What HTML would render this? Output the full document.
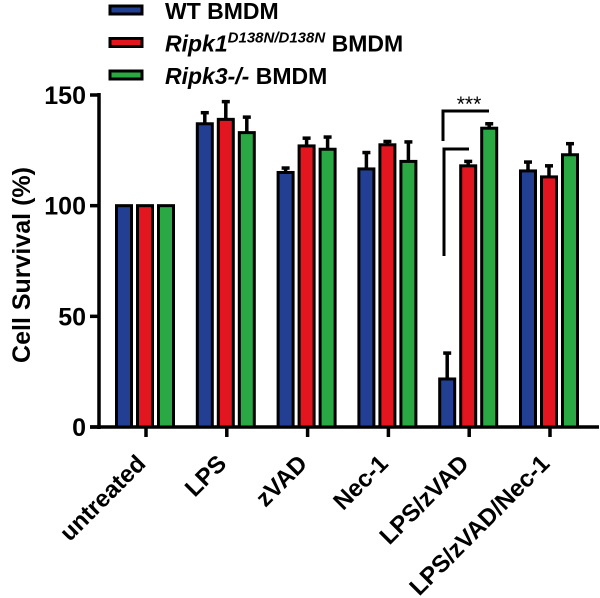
<!DOCTYPE html>
<html><head><meta charset="utf-8"><style>
body{margin:0;background:#fff}
svg{display:block;font-family:"Liberation Sans",Arial,sans-serif;font-weight:bold}
</style></head><body>
<svg id="c" width="600" height="598"></svg>
<script>
const categories=["untreated","LPS","zVAD","Nec-1","LPS/zVAD","LPS/zVAD/Nec-1"];
const wtValues=[100,137,115,116.6,21.7,115.7];
const wtErr=[0,5,2,7.4,11.7,4];
const ripk1Values=[100,139,127,127.5,118,113];
const ripk1Err=[0,8,3.5,1.5,2,5];
const ripk3Values=[100,133,125.5,120,135,123];
const ripk3Err=[0,7,5.5,8.8,2,5];
const yTicks=[0,50,100,150];
const NS="http://www.w3.org/2000/svg";
const svg=document.getElementById('c');
function el(t,a,p){const e=document.createElementNS(NS,t);for(const k in a)e.setAttribute(k,a[k]);(p||svg).appendChild(e);return e;}
const y=v=>427-v*(332/150);
const xc=i=>146+i*80.8;
const series=[{v:wtValues,e:wtErr,c:"#233f93",n:"wt"},{v:ripk1Values,e:ripk1Err,c:"#e3151f",n:"ripk1"},{v:ripk3Values,e:ripk3Err,c:"#29a843",n:"ripk3"}];
let a=el('line',{x1:99,y1:93,x2:99,y2:429,stroke:'#000','stroke-width':3.5});

a=el('line',{x1:90,y1:427,x2:599,y2:427,stroke:'#000','stroke-width':3.5});

yTicks.forEach(t=>{
 el('line',{x1:90,y1:y(t),x2:99,y2:y(t),stroke:'#000','stroke-width':3.5});
 const tx=el('text',{x:86,y:y(t)+9,'text-anchor':'end','font-size':25});tx.textContent=t;
 
});
const yt=el('text',{x:0,y:0,'font-size':25,'text-anchor':'middle',transform:'translate(30,265) rotate(-90)'});
yt.textContent='Cell Survival (%)';

categories.forEach((c,i)=>{
 el('line',{x1:xc(i),y1:427,x2:xc(i),y2:437,stroke:'#000','stroke-width':3.5});
 const tx=el('text',{x:0,y:0,'font-size':24,'text-anchor':'end',transform:`translate(${xc(i)+1},${465}) rotate(-45)`});
 tx.textContent=c;
 
 series.forEach((s,j)=>{
  const cx=xc(i)+(j-1)*21-1, w=15;
  const top=y(s.v[i]);
  if(s.e[i]>0){
   const et=y(s.v[i]+s.e[i]);
   el('line',{x1:cx,y1:top,x2:cx,y2:et,stroke:'#000','stroke-width':3.5});
   el('line',{x1:cx-4,y1:et,x2:cx+4,y2:et,stroke:'#000','stroke-width':3.5});
  }
  const r=el('rect',{x:cx-w/2,y:top,width:w,height:427-top,fill:s.c,stroke:'#000','stroke-width':3});
  
 });
});
const sg=el('g',{fill:'none',stroke:'#000','stroke-width':3});

el('polyline',{points:'443,141 443,111 489,111'},sg);
el('polyline',{points:'444,256 444,149 469,149'},sg);
const st=el('text',{x:469,y:111,'text-anchor':'middle','font-size':21,'font-weight':'normal'});st.textContent='***';

const labels=[['WT BMDM'],['Ripk1','D138N/D138N',' BMDM'],['Ripk3-/-',' BMDM']];
series.forEach((s,j)=>{
 const yy=10+j*32.5;
 const g=el('g',{});
 
 el('rect',{x:110,y:yy-4,width:32,height:8,fill:s.c,stroke:'#000','stroke-width':3},g);
 const t=el('text',{x:165,y:yy+9,'font-size':23},g);
 if(j==0)t.textContent='WT BMDM';
 else{
  const a1=el('tspan',{'font-style':'italic'},t);a1.textContent=labels[j][0];
  if(j==1){const a2=el('tspan',{'font-style':'italic','font-size':15,dy:-9},t);a2.textContent=labels[j][1];
   const a3=el('tspan',{dy:9},t);a3.textContent=labels[j][2];}
  else{const a3=el('tspan',{},t);a3.textContent=labels[j][1];}
 }
});
</script>
</body></html>
